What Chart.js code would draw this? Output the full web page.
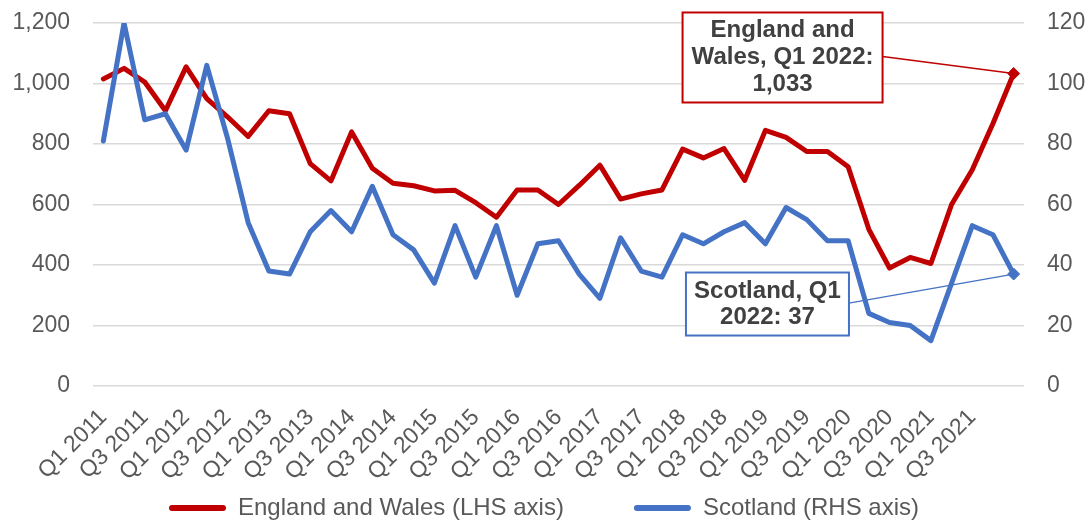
<!DOCTYPE html>
<html>
<head>
<meta charset="utf-8">
<script src="https://cdn.jsdelivr.net/npm/chart.js@4.4.1/dist/chart.umd.min.js"></script>
<style>
html,body{margin:0;padding:0;background:#fff;}
#wrap{width:1088px;height:525px;position:relative;}
</style>
</head>
<body>
<div id="wrap"><canvas id="c"></canvas></div>
<script>
const quarters = [
  'Q1 2011','Q2 2011','Q3 2011','Q4 2011','Q1 2012','Q2 2012','Q3 2012','Q4 2012',
  'Q1 2013','Q2 2013','Q3 2013','Q4 2013','Q1 2014','Q2 2014','Q3 2014','Q4 2014',
  'Q1 2015','Q2 2015','Q3 2015','Q4 2015','Q1 2016','Q2 2016','Q3 2016','Q4 2016',
  'Q1 2017','Q2 2017','Q3 2017','Q4 2017','Q1 2018','Q2 2018','Q3 2018','Q4 2018',
  'Q1 2019','Q2 2019','Q3 2019','Q4 2019','Q1 2020','Q2 2020','Q3 2020','Q4 2020',
  'Q1 2021','Q2 2021','Q3 2021','Q4 2021','Q1 2022'
];
const tickLabels = [
  'Q1 2011','Q3 2011','Q1 2012','Q3 2012','Q1 2013','Q3 2013','Q1 2014','Q3 2014',
  'Q1 2015','Q3 2015','Q1 2016','Q3 2016','Q1 2017','Q3 2017','Q1 2018','Q3 2018',
  'Q1 2019','Q3 2019','Q1 2020','Q3 2020','Q1 2021','Q3 2021'
];
const englandWales = [
  1015,1050,1005,910,1055,950,890,825,
  910,900,735,678,840,720,670,662,
  645,647,606,558,648,648,600,663,
  730,618,635,648,783,754,785,680,
  845,822,775,775,725,518,390,425,
  405,600,715,868,1033
];
const scotland = [
  81,120,88,90,78,106,82,54,
  38,37,51,58,51,66,50,45,
  34,53,36,53,30,47,48,37,
  29,49,38,36,50,47,51,54,
  47,59,55,48,48,24,21,20,
  15,34,53,50,37
];
const leftTicks = {min:0, max:1200, step:200};
const rightTicks = {min:0, max:120, step:20};
const seriesNames = ['England and Wales (LHS axis)','Scotland (RHS axis)'];

const RED = '#C00000', BLUE = '#4472C4', GREY = '#595959';
const FONT = 'Arial, "Liberation Sans", sans-serif';
const lastIdx = quarters.length - 1;

const callouts = [
  {ds:0, axis:'y', cx:32.83, cy:1086, w:200, h:90, lineH:27, color:RED,
   text:['England and','Wales, Q1 2022:', englandWales[lastIdx].toLocaleString('en-GB')]},
  {ds:1, axis:'y1', cx:32.1, cy:27.1, w:163, h:63, lineH:26, color:BLUE,
   text:['Scotland, Q1','2022: ' + scotland[lastIdx]]}
];

const calloutPlugin = {
  id:'callouts',
  beforeDatasetsDraw(chart){
    const ctx = chart.ctx, xs = chart.scales.x;
    callouts.forEach(c=>{
      const ys = chart.scales[c.axis];
      const bx = xs.getPixelForValue(c.cx), by = ys.getPixelForValue(c.cy);
      const meta = chart.getDatasetMeta(c.ds);
      const pt = meta.data[meta.data.length-1];
      ctx.save();
      ctx.strokeStyle = c.color; ctx.lineWidth = 1.3;
      ctx.beginPath(); ctx.moveTo(bx + c.w/2, by - 1); ctx.lineTo(pt.x, pt.y); ctx.stroke();
      ctx.restore();
    });
  },
  afterDatasetsDraw(chart){
    const ctx = chart.ctx, xs = chart.scales.x;
    callouts.forEach(c=>{
      const ys = chart.scales[c.axis];
      const bx = xs.getPixelForValue(c.cx), by = ys.getPixelForValue(c.cy);
      ctx.save();
      ctx.fillStyle = '#fff';
      ctx.fillRect(bx - c.w/2, by - c.h/2, c.w, c.h);
      ctx.strokeStyle = c.color; ctx.lineWidth = 2;
      ctx.strokeRect(bx - c.w/2, by - c.h/2, c.w, c.h);
      ctx.fillStyle = '#404040';
      ctx.font = 'bold 24px ' + FONT;
      ctx.textAlign = 'center'; ctx.textBaseline = 'middle';
      const n = c.text.length;
      c.text.forEach((t,i)=>{
        ctx.fillText(t, bx, by + (i - (n-1)/2) * c.lineH);
      });
      ctx.restore();
    });
  }
};

const legendGap = '         ';

new Chart(document.getElementById('c'), {
  type:'line',
  data:{
    labels: quarters,
    datasets:[
      {label:seriesNames[0], data:englandWales, yAxisID:'y', order:1, borderColor:RED, backgroundColor:RED,
       borderWidth:5, borderCapStyle:'round', borderJoinStyle:'round', tension:0,
       pointStyle:'rectRot', pointRadius:c=>c.dataIndex===lastIdx?6:0,
       pointBackgroundColor:RED, pointBorderColor:RED, pointBorderWidth:1, pointHoverRadius:0},
      {label:seriesNames[1], data:scotland, yAxisID:'y1', order:0, borderColor:BLUE, backgroundColor:BLUE,
       borderWidth:5, borderCapStyle:'round', borderJoinStyle:'round', tension:0,
       pointStyle:'rectRot', pointRadius:c=>c.dataIndex===lastIdx?6:0,
       pointBackgroundColor:BLUE, pointBorderColor:BLUE, pointBorderWidth:1, pointHoverRadius:0}
    ]
  },
  options:{
    responsive:true, maintainAspectRatio:false, animation:false,
    layout:{padding:{top:23, left:0, right:0, bottom:-5}},
    plugins:{
      tooltip:{enabled:false},
      legend:{
        position:'bottom',
        labels:{
          color:GREY, font:{family:FONT, size:24},
          boxWidth:57, boxHeight:6, useBorderRadius:true, borderRadius:3,
          padding:10,
          generateLabels(chart){
            return chart.data.datasets.map((d,i)=>({
              text: i === 0 ? d.label + legendGap : d.label,
              fillStyle:d.borderColor, strokeStyle:d.borderColor, lineWidth:0,
              fontColor:GREY, hidden:false, datasetIndex:i, borderRadius:3
            }));
          }
        }
      }
    },
    scales:{
      x:{
        offset:true,
        grid:{display:false, drawTicks:false}, border:{display:false},
        ticks:{
          autoSkip:false, maxRotation:45, minRotation:45, padding:18,
          color:GREY, font:{family:FONT, size:23},
          callback:(v,i)=> tickLabels.includes(quarters[i]) ? quarters[i] : ''
        },
        afterFit(s){ s.height = 100; }
      },
      y:{
        position:'left', min:leftTicks.min, max:leftTicks.max,
        grid:{color:'#D9D9D9', lineWidth:1.5, drawTicks:false}, border:{display:false},
        ticks:{stepSize:leftTicks.step, padding:23, color:GREY, font:{family:FONT, size:23},
          callback:v=>v.toLocaleString('en-GB')},
        afterFit(s){ s.width = 93; s.paddingTop = 0; s.paddingBottom = 0; }
      },
      y1:{
        position:'right', min:rightTicks.min, max:rightTicks.max,
        grid:{display:false, drawTicks:false}, border:{display:false},
        ticks:{stepSize:rightTicks.step, padding:23, color:GREY, font:{family:FONT, size:23}},
        afterFit(s){ s.width = 64; s.paddingTop = 0; s.paddingBottom = 0; }
      }
    }
  },
  plugins:[calloutPlugin]
});
</script>
</body>
</html>
